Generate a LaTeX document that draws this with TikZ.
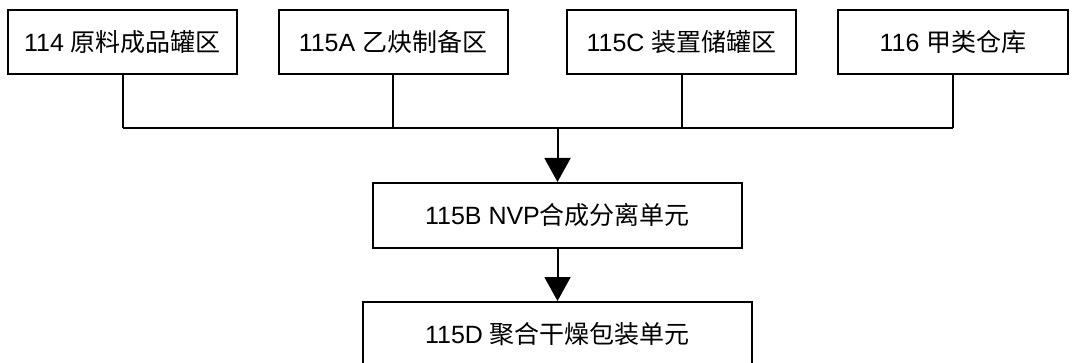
\documentclass[tikz,border=0pt]{standalone}
\usepackage{fontspec}
\setmainfont{Liberation Sans}
\newfontfamily\cjk{Noto Sans CJK SC}
\usetikzlibrary{arrows.meta}

\begin{document}
\begin{tikzpicture}[x=1pt,y=1pt,
  unit/.style={draw,line width=2pt,minimum height=64pt,inner sep=0pt,font=\fontsize{25}{30}\selectfont},
  link/.style={line width=2pt},
  flow/.style={line width=2pt,-{Triangle[width=26pt,length=24pt]}}]

\clip (0,0) rectangle (1075,-363);
\fill[white] (0,0) rectangle (1075,-363);

% top row
\node[unit,minimum width=229pt] (yuanliao) at (122.5,-42) {114 {\cjk 原料成品罐区}};
\node[unit,minimum width=229pt] (yique) at (393,-42) {115A {\cjk 乙炔制备区}};
\node[unit,minimum width=229pt] (chuguan) at (681.5,-42) {115C {\cjk 装置储罐区}};
\node[unit,minimum width=230pt] (cangku) at (953,-42) {116 {\cjk 甲类仓库}};

% units below
\node[unit,minimum width=369pt,minimum height=65pt] (hecheng) at (557.5,-215.5) {115B NVP{\cjk 合成分离单元}};
\node[unit,minimum width=389pt] (baozhuang) at (557.5,-334) {115D {\cjk 聚合干燥包装单元}};

\coordinate (bus) at (557.5,-128);

% collector line
\foreach \u in {yuanliao,yique,chuguan,cangku}
	\draw[link] (\u.south) -- (\u.south |- bus);
\draw[link] (yuanliao.south |- bus) -- (cangku.south |- bus);

\draw[flow] (bus) -- (hecheng.north);
\draw[flow] (hecheng.south) -- (baozhuang.north);
\end{tikzpicture}
\end{document}
